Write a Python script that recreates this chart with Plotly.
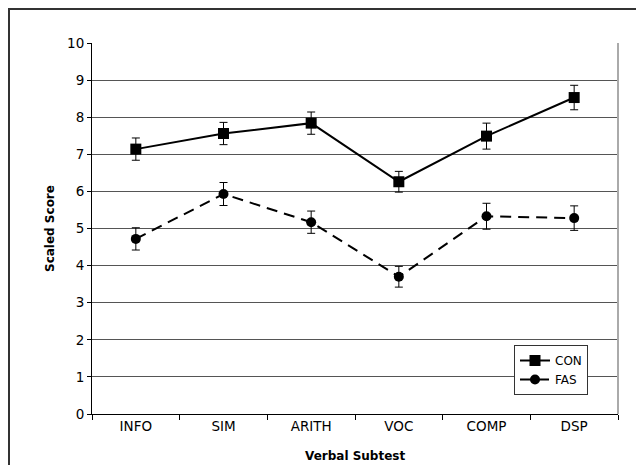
import plotly.graph_objects as go

categories = ["INFO", "SIM", "ARITH", "VOC", "COMP", "DSP"]
con_values = [7.14, 7.56, 7.84, 6.26, 7.49, 8.53]
con_err = [0.30, 0.30, 0.30, 0.28, 0.35, 0.33]
fas_values = [4.72, 5.93, 5.17, 3.70, 5.33, 5.28]
fas_err = [0.30, 0.31, 0.30, 0.28, 0.35, 0.33]
y_ticks = [0, 1, 2, 3, 4, 5, 6, 7, 8, 9, 10]

fig = go.Figure()
fig.add_trace(go.Scatter(
    x=categories, y=con_values, name="CON", mode="lines+markers",
    line=dict(color="black", width=2),
    marker=dict(symbol="square", size=11, color="black"),
    error_y=dict(type="data", array=con_err, color="black", thickness=1, width=4),
))
fig.add_trace(go.Scatter(
    x=categories, y=fas_values, name="FAS", mode="lines+markers",
    line=dict(color="black", width=2, dash="11px,7px"),
    marker=dict(symbol="circle", size=10, color="black"),
    error_y=dict(type="data", array=fas_err, color="black", thickness=1, width=4),
))

# page body has an 8px margin, so figure coordinates are offset by 8px
L, R, T, B = 84, 34, 35, 59
W, H = 644, 465
pw, ph = W - L - R, H - T - B
bottom_px = H - B

tick_font = dict(family="DejaVu Sans", size=13.5, color="black")
title_font = dict(family="DejaVu Sans", size=12, color="black")

fig.update_layout(
    width=W, height=H,
    margin=dict(l=L, r=R, t=T, b=B, autoexpand=False),
    paper_bgcolor="white", plot_bgcolor="white",
    font=tick_font,
    showlegend=True,
    legend=dict(
        x=(506 - L) / pw, y=(bottom_px - 337) / ph, xanchor="left", yanchor="top",
        bgcolor="white", bordercolor="#333333", borderwidth=1,
        font=dict(family="DejaVu Sans", size=12),
        tracegroupgap=0, itemwidth=30,
    ),
    xaxis=dict(
        type="category", range=[-0.5, 5.5], automargin=False,
        showline=True, linecolor="black", linewidth=1,
        ticks="outside", tickson="boundaries", ticklen=5, tickcolor="black",
        showgrid=False, tickfont=tick_font,
    ),
    yaxis=dict(
        range=[0, 10], tickvals=y_ticks, automargin=False,
        showline=True, linecolor="black", linewidth=1,
        ticks="outside", ticklen=4, tickcolor="black",
        showgrid=True, gridcolor="#555555", gridwidth=1,
        zeroline=False, tickfont=tick_font,
    ),
    annotations=[
        dict(text="<b>Verbal Subtest</b>", xref="paper", yref="paper",
             x=0.5, y=(bottom_px - 448) / ph, xanchor="center", yanchor="middle",
             showarrow=False, font=title_font),
        dict(text="<b>Scaled Score</b>", xref="paper", yref="paper",
             x=(42 - L) / pw, y=(bottom_px - 221) / ph, xanchor="center", yanchor="middle",
             textangle=-90, showarrow=False, font=title_font),
    ],
    shapes=[
        dict(type="line", xref="paper", yref="paper", x0=1, x1=1, y0=0, y1=1,
             line=dict(color="#aaaaaa", width=2)),
        dict(type="rect", xref="paper", yref="paper",
             x0=(1 - L) / pw, x1=(700 - L) / pw,
             y0=(bottom_px - 520) / ph, y1=(bottom_px - 1) / ph,
             line=dict(color="#333333", width=2), layer="below"),
    ],
)

fig.write_html("out.html")
